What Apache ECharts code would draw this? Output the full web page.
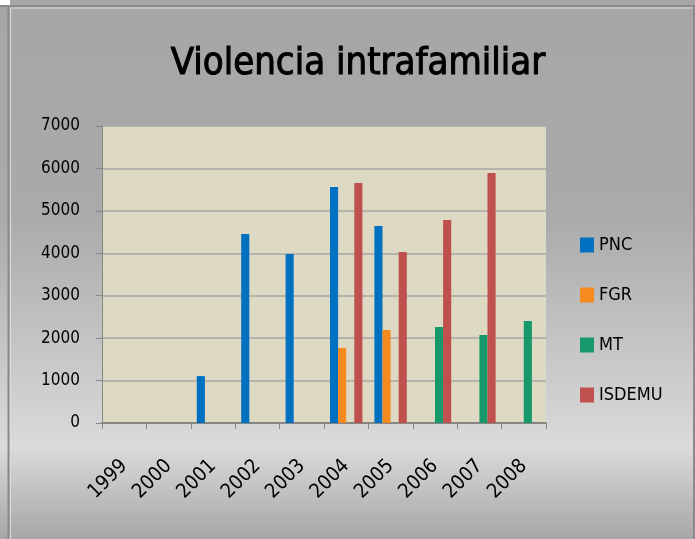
<!DOCTYPE html>
<html><head><meta charset="utf-8">
<script src="https://cdn.jsdelivr.net/npm/echarts@6/dist/echarts.min.js"></script>
<style>html,body{margin:0;padding:0;background:#a6a6a6}#c{width:695px;height:539px}</style>
</head><body><div id="c"></div>
<script>
const years = ['1999','2000','2001','2002','2003','2004','2005','2006','2007','2008'];
const pnc    = [null, null, 1105, 4455, 3985, 5560, 4645, null, null, null];
const fgr    = [null, null, null, null, null, 1770, 2190, null, null, null];
const mt     = [null, null, null, null, null, null, null, 2262, 2075, 2405];
const isdemu = [null, null, null, null, null, 5655, 4030, 4785, 5890, null];
const yTicks = [0,1000,2000,3000,4000,5000,6000,7000];

const font = "'DejaVu Sans Condensed','Liberation Sans',sans-serif";
const chart = echarts.init(document.getElementById('c'));
chart.setOption({
  animation:false,
  backgroundColor:{type:'linear',x:0,y:0,x2:0,y2:1,colorStops:[
    {offset:0,color:'#a6a6a6'},{offset:0.4,color:'#aaaaaa'},{offset:0.83,color:'#dadada'},{offset:1,color:'#a6a6a6'}]},
  graphic:[
    {type:'rect',shape:{x:0,y:0,width:10,height:6},style:{fill:'#ffffff'},z:-1},
    {type:'line',shape:{x1:0,y1:6,x2:695,y2:6},style:{stroke:'#8a8a8a',lineWidth:2}},
    {type:'line',shape:{x1:10,y1:8,x2:695,y2:8},style:{stroke:'#dcdcdc',lineWidth:1}},
    {type:'line',shape:{x1:8.5,y1:6,x2:8.5,y2:539},style:{stroke:'#8a8a8a',lineWidth:2}},
    {type:'line',shape:{x1:10.5,y1:8,x2:10.5,y2:539},style:{stroke:'#dcdcdc',lineWidth:1}},
    {type:'line',shape:{x1:694,y1:6,x2:694,y2:539},style:{stroke:'#8a8a8a',lineWidth:2}}
  ],
  title:{text:'Violencia intrafamiliar',left:353,top:40,textAlign:'center',
    textStyle:{fontFamily:font,fontSize:38,fontWeight:'normal',color:'#000',
      textBorderColor:'#000',textBorderWidth:1}},
  legend:{orient:'vertical',left:575,top:231,itemGap:32,itemWidth:14,itemHeight:15,itemGap:32,
    icon:'rect',textStyle:{fontFamily:font,fontSize:18,color:'#000'},
    data:['PNC','FGR','MT','ISDEMU']},
  grid:{left:102,top:126,right:149,bottom:116,show:true,backgroundColor:'#ded9c3',borderWidth:0},
  xAxis:{type:'category',data:years,
    axisLine:{lineStyle:{color:'#868686',width:2}},
    axisTick:{show:true,alignWithLabel:false,length:6,lineStyle:{color:'#868686'}},
    axisLabel:{rotate:45,margin:40,fontFamily:font,fontSize:20,color:'#000'}},
  yAxis:{type:'value',min:0,max:7000,interval:1000,
    axisLine:{show:true,lineStyle:{color:'#868686'}},
    axisTick:{show:true,length:6,lineStyle:{color:'#868686'}},
    splitLine:{lineStyle:{color:'#a6a6a6',width:1.5}},
    axisLabel:{margin:22,fontFamily:font,fontSize:17,color:'#000',
      formatter:v=>yTicks.includes(v)?String(v):''}},
  series:[
    {name:'PNC',type:'bar',data:pnc,itemStyle:{color:'#0070c0'},barGap:'0%',barCategoryGap:'27%'},
    {name:'FGR',type:'bar',data:fgr,itemStyle:{color:'#f58b1f'}},
    {name:'MT',type:'bar',data:mt,itemStyle:{color:'#17996b'}},
    {name:'ISDEMU',type:'bar',data:isdemu,itemStyle:{color:'#c0504d'}}
  ]
});
</script></body></html>
